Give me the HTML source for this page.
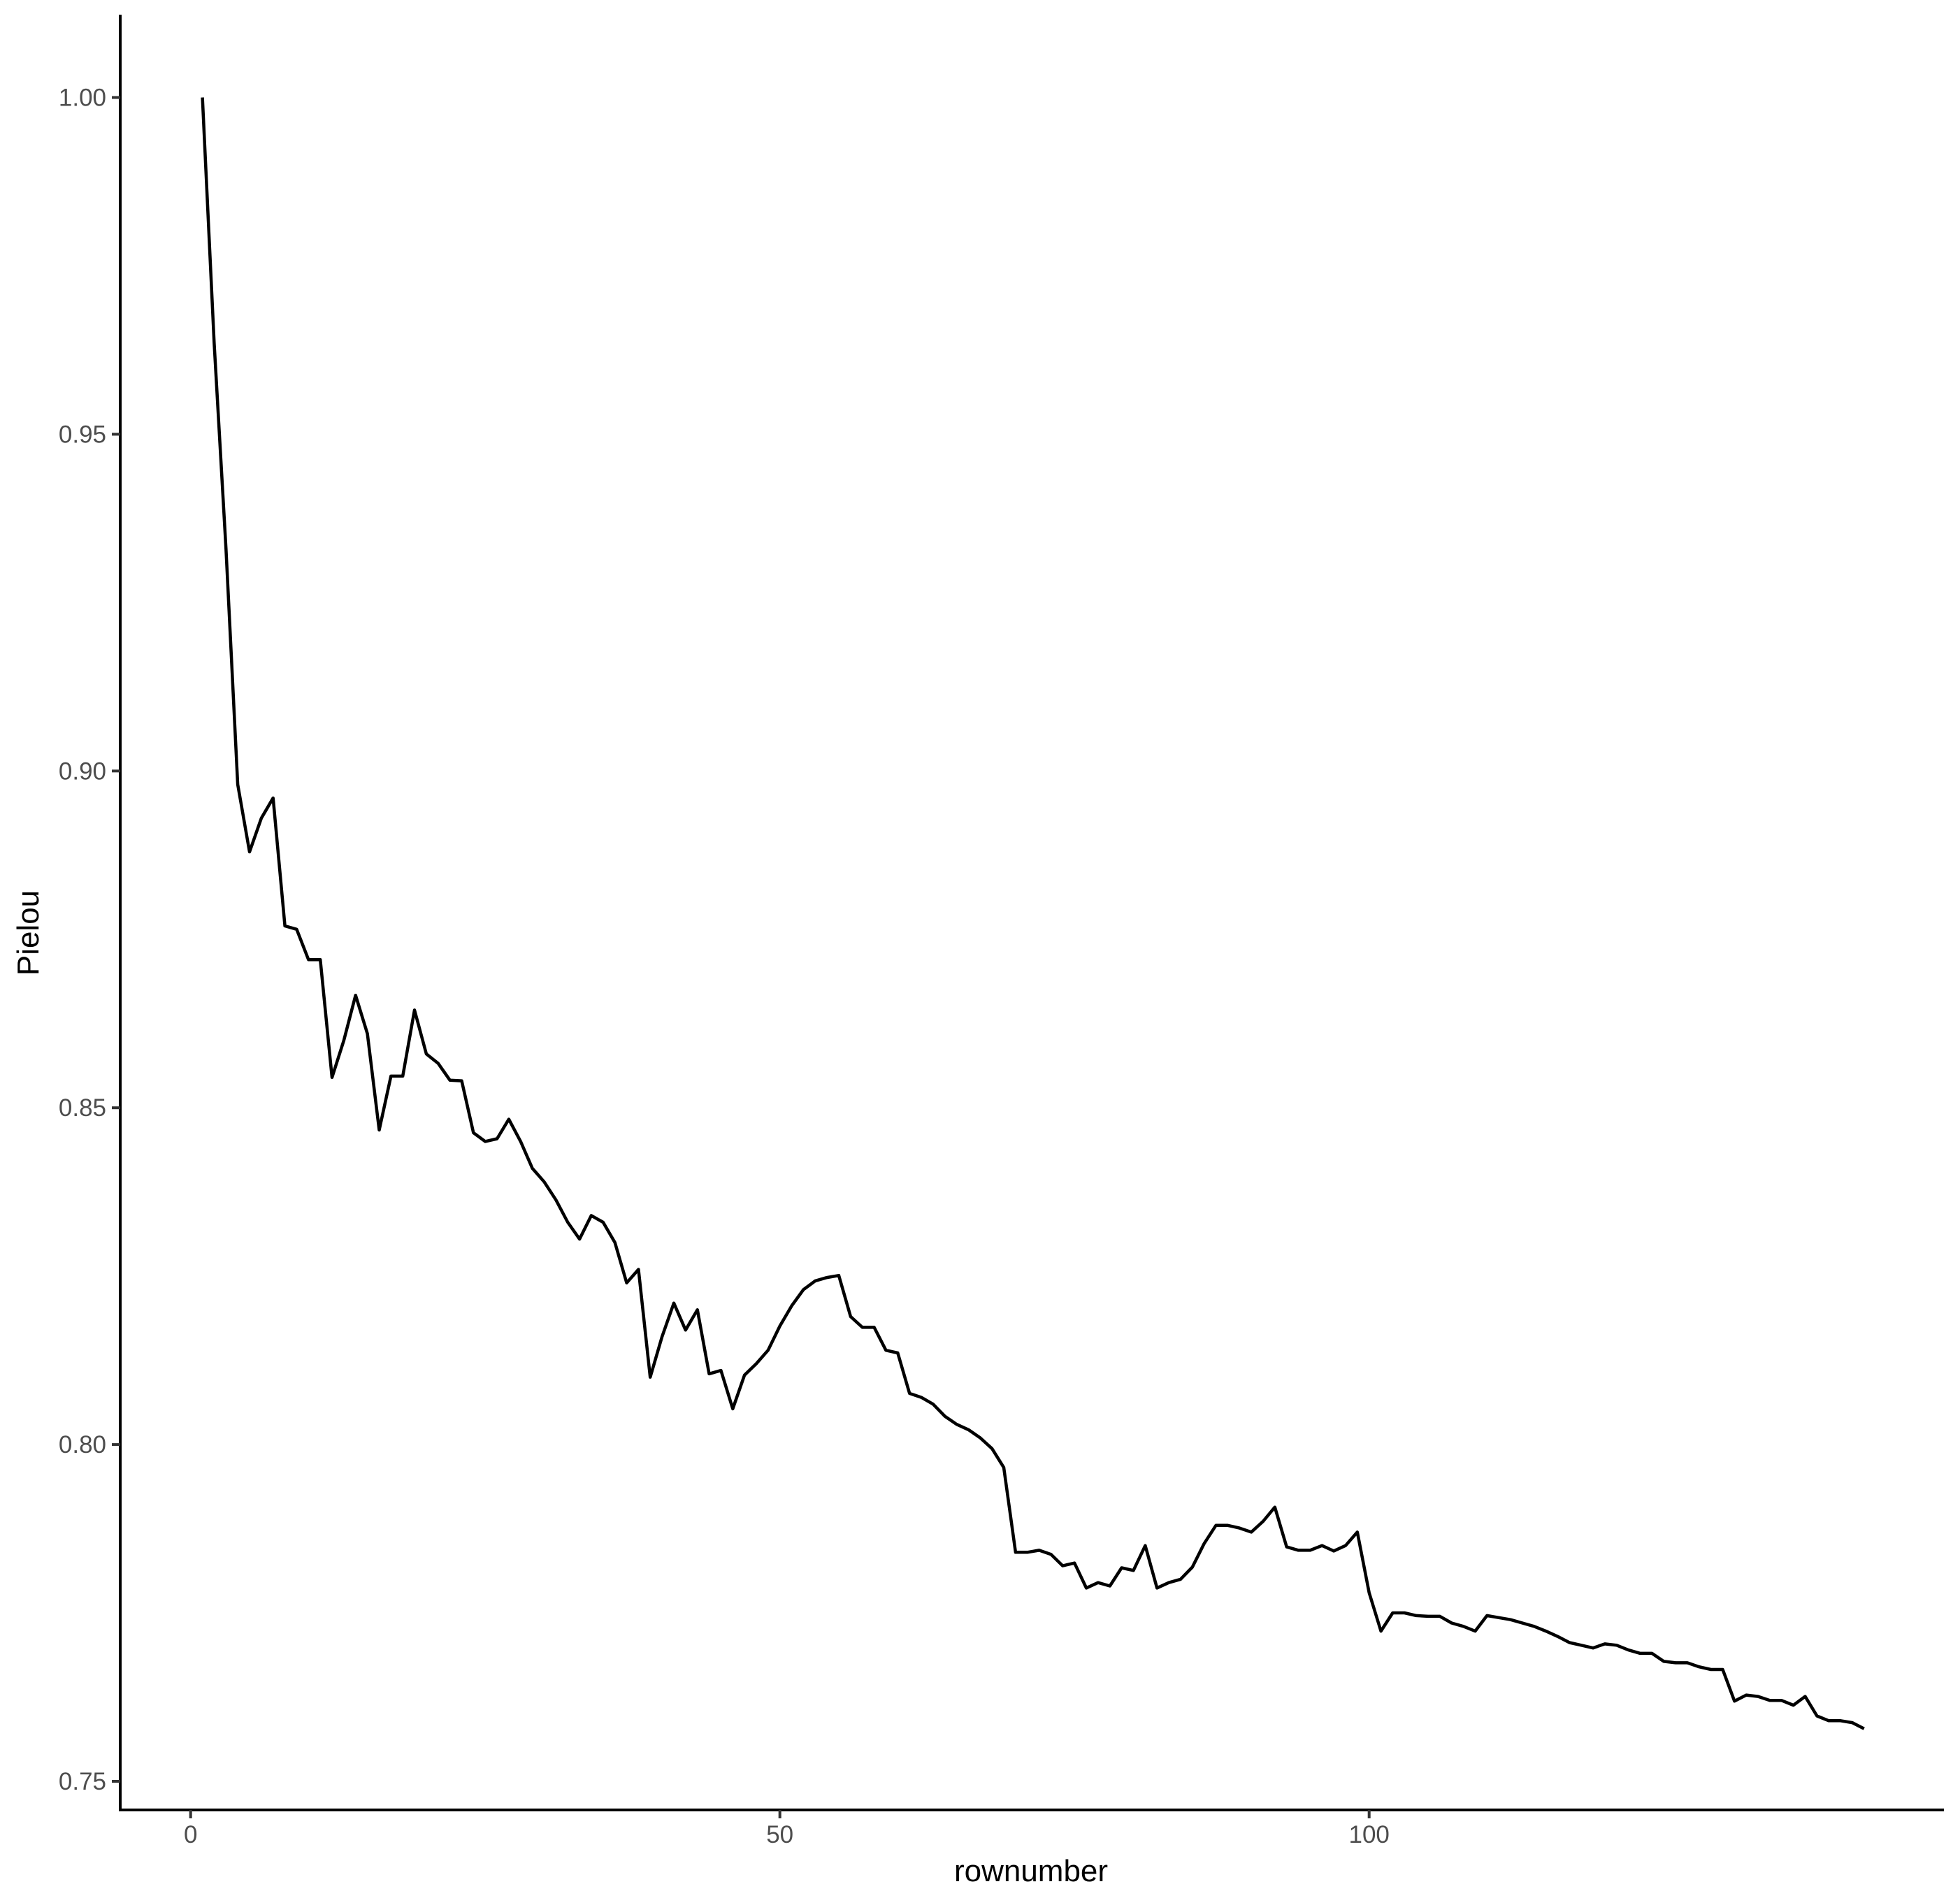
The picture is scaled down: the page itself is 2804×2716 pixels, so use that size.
<!DOCTYPE html>
<html><head><meta charset="utf-8"><style>
html,body{margin:0;padding:0;background:#fff;}
svg{display:block;}
text{font-family:"Liberation Sans",Arial,sans-serif;}
</style></head><body>
<svg id="chart" width="2804" height="2716" viewBox="0 0 2804 2716">
<rect width="2804" height="2716" fill="#fff"/>
<g id="g"></g>
</svg>
<script>
const values = [1.000,0.9635,0.933,0.898,0.888,0.893,0.896,0.877,0.8765,0.872,0.872,0.8545,0.860,0.8667,0.861,0.8467,0.8547,0.8547,0.8645,0.858,
0.8566,0.8541,0.854,0.8463,0.845,0.8454,0.8483,0.845,0.841,0.839,0.8363,0.833,0.8305,0.834,0.833,0.830,0.824,0.826,0.810,0.816,
0.821,0.817,0.820,0.8105,0.811,0.8053,0.8103,0.812,0.814,0.8176,0.8206,0.823,0.8243,0.8248,0.8251,0.819,0.8174,0.8174,0.814,0.8136,
0.8076,0.807,0.806,0.8042,0.803,0.8022,0.801,0.7994,0.7966,0.784,0.784,0.7843,0.7837,0.782,0.7824,0.7787,0.7795,0.779,0.7817,0.7813,
0.785,0.7787,0.7795,0.780,0.7818,0.7853,0.788,0.788,0.7876,0.787,0.7886,0.7907,0.7848,0.7843,0.7843,0.785,0.7842,0.785,0.787,0.778,
0.7723,0.775,0.775,0.7746,0.7745,0.7745,0.7735,0.773,0.7723,0.7746,0.7743,0.774,0.7735,0.773,0.7723,0.7715,0.7706,0.7702,0.7698,0.7704,
0.7702,0.7695,0.769,0.769,0.7678,0.7676,0.7676,0.767,0.7666,0.7666,0.7619,0.7628,0.7626,0.762,0.762,0.7613,0.7626,0.7597,0.759,0.759,
0.7587,0.7578];
const xTicks = [0,50,100];
const yTicks = [0.75,0.80,0.85,0.90,0.95,1.00];
const yTickLabels = ["0.75","0.80","0.85","0.90","0.95","1.00"];

const sx = v => 272.7 + v*16.86;
const sy = v => 2549 - (v-0.75)*9638;
const NS = "http://www.w3.org/2000/svg";
const g = document.getElementById('g');
function mk(tag, attrs){const e=document.createElementNS(NS,tag);for(const k in attrs)e.setAttribute(k,attrs[k]);g.appendChild(e);return e;}

let d = values.map((v,i)=>(i?'L':'M')+sx(i+1).toFixed(1)+','+sy(v).toFixed(1)).join(' ');
const line = mk('path',{d:d,fill:'none',stroke:'#000','stroke-width':4.5,'stroke-linejoin':'round'});



const yaxis = mk('line',{x1:172,y1:21,x2:172,y2:2592,stroke:'#000','stroke-width':4});


const xaxis = mk('line',{x1:170,y1:2590,x2:2781,y2:2590,stroke:'#000','stroke-width':4});



yTicks.forEach((t,i)=>{
  const tk = mk('line',{x1:160,y1:sy(t),x2:172,y2:sy(t),stroke:'#333','stroke-width':4});
  
  
  const lb = mk('text',{x:152,y:sy(t)+12,'text-anchor':'end','font-size':35,fill:'#4d4d4d'});
  lb.textContent = yTickLabels[i];
  
  
});
xTicks.forEach(t=>{
  const tk = mk('line',{x1:sx(t),y1:2590,x2:sx(t),y2:2602,stroke:'#333','stroke-width':4});
  
  
  const lb = mk('text',{x:sx(t),y:2637,'text-anchor':'middle','font-size':35,fill:'#4d4d4d'});
  lb.textContent = String(t);
  
  
});
const xt = mk('text',{x:1475,y:2692,'text-anchor':'middle','font-size':44,fill:'#000'});
xt.textContent = 'rownumber';


const yt = mk('text',{x:0,y:0,'text-anchor':'middle','font-size':44,fill:'#000',transform:'translate(55,1335) rotate(-90)'});
yt.textContent = 'Pielou';


</script>
</body></html>
